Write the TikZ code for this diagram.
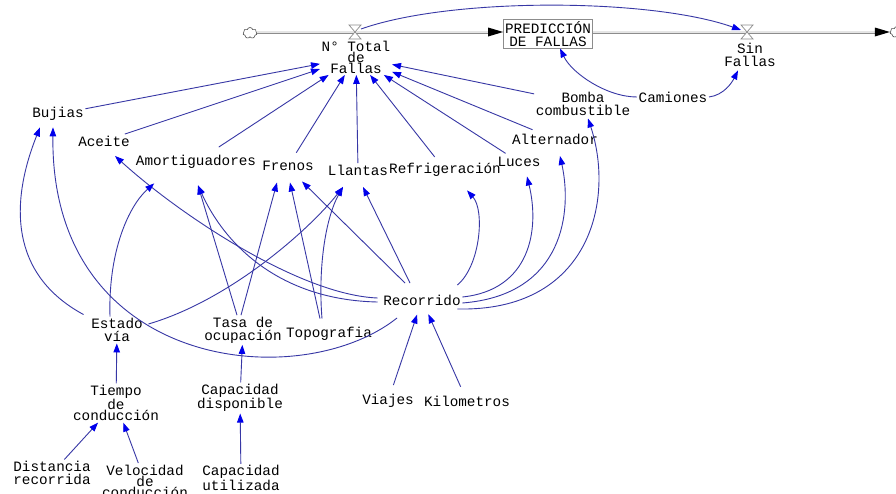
\documentclass[tikz,border=0pt]{standalone}
\usepackage{fontspec}
\newfontfamily\vfont{Liberation Mono}
\usetikzlibrary{arrows.meta,shapes.symbols,calc}
\definecolor{linkblue}{RGB}{55,55,165}
\definecolor{tipblue}{RGB}{0,0,235}
\definecolor{pipegray}{RGB}{140,140,140}
\begin{document}
\begin{tikzpicture}[x=1pt,y=-1pt,
  lab/.style={font=\vfont\fontsize{14.3}{13}\selectfont, align=center, inner sep=1.5pt},
  lab3/.style={font=\vfont\fontsize{14.3}{11}\selectfont, align=center, inner sep=1.5pt},
  link/.style={draw=linkblue, line width=0.9pt, -{Triangle[length=9pt,width=6.5pt,color=tipblue]}},
  pipe/.style={draw=pipegray, line width=0.8pt, double=gray!20, double distance=1.4pt},
  cloudnode/.style={cloud, cloud puffs=7, draw=black!70, line width=0.6pt, minimum width=14pt, minimum height=11pt, inner sep=0pt, aspect=1.3},
  valve/.style={draw=pipegray, line width=0.7pt, fill=white},
]
\useasboundingbox[fill=white] (0,0) rectangle (896,493);

% stock / flow chain
\node[cloudnode] (cloudL) at (250,33) {};
\node[cloudnode] (cloudR) at (897,32) {};
\node[draw=pipegray, line width=1pt, minimum width=87pt, minimum height=28pt, inner sep=0pt, lab, fill=white] (box) at (548,34) {PREDICCIÓN\\DE FALLAS};
\coordinate (v1) at (355,32);
\coordinate (v2) at (747,32);
\coordinate (p1) at (box.west |- v1);
\coordinate (p2) at (box.east |- v1);
\coordinate (p3) at (cloudR.west |- v1);
\draw[pipe] (cloudL.east |- v1) -- ([xshift=-13pt]p1);
\fill[black] (p1) -- ++(-15,-4.5) -- ++(0,9) -- cycle;
\draw[pipe] (p2) -- ([xshift=-13pt]p3);
\fill[black] (p3) -- ++(-15,-4.5) -- ++(0,9) -- cycle;
\draw[valve] ($(v1)+(-6,-7)$) -- ($(v1)+(6,-7)$) -- ($(v1)+(-6,7)$) -- ($(v1)+(6,7)$) -- cycle;
\draw[valve] ($(v2)+(-6,-7)$) -- ($(v2)+(6,-7)$) -- ($(v2)+(-6,7)$) -- ($(v2)+(6,7)$) -- cycle;

% labels
\node[lab3] (ntf) at (356,57) {N° Total\\de\\Fallas};
\node[lab] (sinf) at (750,55) {Sin\\Fallas};
\node[lab] (cam) at (673,97) {Camiones};
\node[lab] (bomba) at (583,104) {Bomba\\combustible};
\node[lab] (alt) at (555,139) {Alternador};
\node[lab] (luces) at (519,162) {Luces};
\node[lab] (llantas) at (358,170) {Llantas};
\node[lab] (refri) at (445,170) {Refrigeración};
\node[lab] (frenos) at (288,166) {Frenos};
\node[lab] (amort) at (196,162) {Amortiguadores};
\node[lab] (aceite) at (104,141) {Aceite};
\node[lab] (bujias) at (58,114) {Bujias};
\node[lab] (rec) at (422,300) {Recorrido};
\node[lab] (estado) at (117,330) {Estado\\vía};
\node[lab] (tasa) at (243,330) {Tasa de\\ocupación};
\node[lab] (topo) at (329,334) {Topografia};
\node[lab3] (tiempo) at (116,403) {Tiempo\\de\\conducción};
\node[lab] (capdis) at (240,398) {Capacidad\\disponible};
\node[lab] (viajes) at (388,401) {Viajes};
\node[lab] (km) at (467,401) {Kilometros};
\node[lab] (dist) at (52,473) {Distancia\\recorrida};
\node[lab3] (vel) at (145,481) {Velocidad\\de\\conducción};
\node[lab] (caput) at (241,478) {Capacidad\\utilizada};

% links at the top
\draw[link] ($(v1)+(6,-3)$) .. controls +(90,-32) and +(-90,-32) .. ($(v2)+(-6,-2)$);
\draw[link] (cam.west) .. controls +(-30,0) and +(12,25) .. ($(box.south)+(12,0)$);
\draw[link] (cam.east) .. controls +(15,-2) and +(-6,12) .. ($(sinf.south)+(-12,2)$);

% links into N Total de Fallas
\draw[link] (bujias) -- (ntf);
\draw[link] (aceite) -- (ntf);
\draw[link, shorten <=12pt] (amort) -- (ntf);
\draw[link, shorten <=8pt] (frenos) -- (ntf);
\draw[link] (llantas) -- (ntf);
\draw[link, shorten <=6pt] (refri) -- (ntf);
\draw[link, shorten <=4pt] (luces) -- (ntf);
\draw[link, shorten <=6pt] (alt) -- (ntf);
\draw[link] (bomba) -- (ntf);

% links from Recorrido
\draw[link] ($(rec)+(-25,18)$) .. controls +(-97,77) and +(-3,243) .. ($(bujias.south)+(-5,5)$);
\draw[link] ($(rec.west)+(-4,-2)$) .. controls (300,295) and (180,215) .. ($(aceite.south)+(11,8)$);
\draw[link] ($(rec.west)+(-4,2)$) .. controls (280,300) and (225,245) .. ($(amort.south)+(2,15)$);
\draw[link] ($(rec.north)+(-17,-10)$) -- ($(frenos.south)+(14,9)$);
\draw[link] ($(rec.north)+(-12,-10)$) -- ($(llantas.south)+(5,10)$);
\draw[link] ($(rec.north east)+(-5,-8)$) .. controls +(23,-19) and +(18,20) .. ($(refri.south)+(22,12)$);
\draw[link] ($(rec.east)+(0,-3)$) .. controls (530,290) and (540,230) .. ($(luces.south)+(8,8)$);
\draw[link] ($(rec.east)+(0,3)$) .. controls (565,295) and (572,210) .. ($(alt.south)+(5,10)$);
\draw[link] ($(rec.south east)+(-5,2)$) .. controls (590,312) and (615,200) .. ($(bomba.south)+(5,1)$);

% links from Estado via
\draw[link] ($(estado.north west)+(-6,-2)$) .. controls +(-74,-40) and +(-30,75) .. ($(bujias.south)+(-18,5)$);
\draw[link] ($(estado.north)+(-7,0)$) .. controls +(-2,-66) and +(-25,22) .. ($(amort.south west)+(20,13)$);
\draw[link] ($(estado.east)+(4,-6)$) .. controls +(82,-24) and +(-33,42) .. ($(llantas.south)+(-15,10)$);

% links from Tasa de ocupacion and Topografia
\draw[link] ($(tasa.north)+(-6,0)$) -- ($(amort.south)+(2,15)$);
\draw[link] ($(tasa.north)+(-2,0)$) -- ($(frenos.south)+(-11,10)$);
\draw[link] ($(topo.north)+(-9,-7)$) -- ($(frenos.south)+(2,10)$);
\draw[link] ($(topo.north)+(-7,-7)$) .. controls +(-4,-49) and +(-18,32) .. ($(llantas.south)+(-15,10)$);

% lower links
\draw[link] (tiempo) -- (estado);
\draw[link] (dist) -- (tiempo);
\draw[link] (vel) -- (tiempo);
\draw[link] (capdis) -- (tasa);
\draw[link] (caput) -- (capdis);
\draw[link, shorten <=8pt, shorten >=8pt] (viajes) -- (rec);
\draw[link, shorten <=8pt, shorten >=8pt] (km) -- (rec);
\end{tikzpicture}
\end{document}
